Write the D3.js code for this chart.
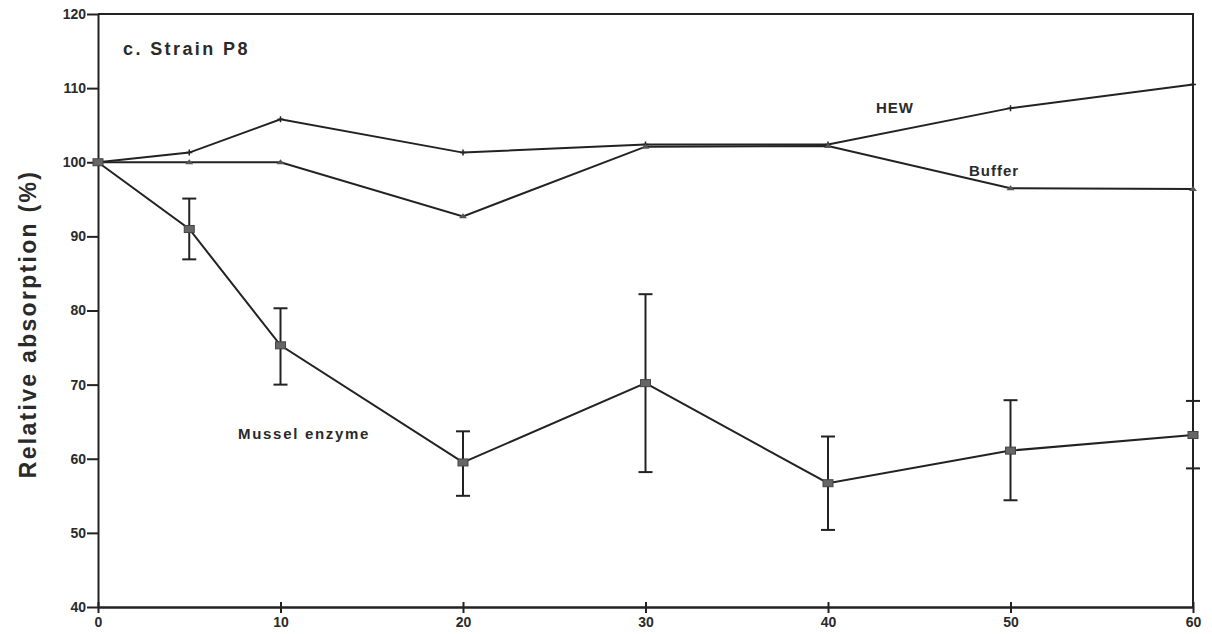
<!DOCTYPE html>
<html>
<head>
<meta charset="utf-8">
<script src="https://cdn.jsdelivr.net/npm/d3@7"></script>
<style>
  body { margin: 0; background: #fff; }
  svg text { font-family: "Liberation Sans", Arial, sans-serif; font-weight: bold; fill: #2a2a2a; }
</style>
</head>
<body>
<div id="chart"></div>
<script>
// time points (min)
const times = [0, 5, 10, 20, 30, 40, 50, 60];
// relative absorption (%)
const hewValues = [100, 101.3, 105.8, 101.3, 102.4, 102.4, 107.3, 110.5];
const bufferValues = [100, 100, 100, 92.7, 102.1, 102.2, 96.5, 96.4];
const musselValues = [100, 91.0, 75.3, 59.5, 70.2, 56.7, 61.1, 63.2];
const musselLow = [null, 86.9, 70.0, 55.0, 58.2, 50.4, 54.4, 58.7];
const musselHigh = [null, 95.1, 80.3, 63.7, 82.2, 63.0, 67.9, 67.8];
const xTicks = [0, 10, 20, 30, 40, 50, 60];
const yTicks = [40, 50, 60, 70, 80, 90, 100, 110, 120];

const width = 1212, height = 634;
const svg = d3.select("#chart").append("svg")
    .attr("width", width)
    .attr("height", height);

const x = d3.scaleLinear().domain([0, 60]).range([98, 1193]);
const y = d3.scaleLinear().domain([40, 120]).range([607, 14]);

const ink = "#222";

// frame (top + right)
svg.append("path")
    .attr("d", `M${x(0)},${y(120)}H${x(60)}V${y(40)}`)
    .attr("fill", "none")
    .attr("stroke", ink)
    .attr("stroke-width", 2);

// y axis
const yAxis = svg.append("g")
    .attr("transform", `translate(${x(0)},0)`)
    .call(d3.axisLeft(y).tickValues(yTicks).tickSize(11).tickPadding(1).tickSizeOuter(0));
yAxis.attr("font-size", 14);
yAxis.select(".domain").attr("stroke", ink).attr("stroke-width", 2);
yAxis.selectAll(".tick line").attr("stroke", ink).attr("stroke-width", 2);
yAxis.selectAll("text").style("font-size", "14px").attr("fill", "#2a2a2a");

// x axis
const xAxis = svg.append("g")
    .attr("transform", `translate(0,${y(40)})`)
    .call(d3.axisBottom(x).tickValues(xTicks).tickSize(6).tickPadding(4).tickSizeOuter(0));
xAxis.attr("font-size", 14);
xAxis.select(".domain").attr("stroke", ink).attr("stroke-width", 2.5);
xAxis.selectAll(".tick line").attr("stroke", ink).attr("stroke-width", 2).attr("y1", -5);
xAxis.selectAll("text").style("font-size", "14px").attr("fill", "#2a2a2a");

const line = d3.line()
    .x((d, i) => x(times[i]))
    .y(d => y(d));

// error bars for mussel enzyme
const errData = times.map((t, i) => ({ t: t, lo: musselLow[i], hi: musselHigh[i] }))
    .filter(d => d.lo !== null);
const err = svg.append("g");
err.selectAll("line.bar").data(errData).enter().append("line")
    .attr("x1", d => x(d.t)).attr("x2", d => x(d.t))
    .attr("y1", d => y(d.lo)).attr("y2", d => y(d.hi))
    .attr("stroke", ink).attr("stroke-width", 2);
["lo", "hi"].forEach(k => {
    err.selectAll("line.cap" + k).data(errData).enter().append("line")
        .attr("x1", d => x(d.t) - 7).attr("x2", d => x(d.t) + 7)
        .attr("y1", d => y(d[k])).attr("y2", d => y(d[k]))
        .attr("stroke", ink).attr("stroke-width", 2);
});

// lines
[hewValues, bufferValues, musselValues].forEach(vals => {
    svg.append("path")
        .datum(vals)
        .attr("d", line)
        .attr("fill", "none")
        .attr("stroke", ink)
        .attr("stroke-width", 2);
});

// HEW markers (small plus)
svg.selectAll("path.hew").data(hewValues).enter().append("path")
    .attr("d", (d, i) => `M${x(times[i]) - 3},${y(d)}h6M${x(times[i])},${y(d) - 3}v6`)
    .attr("stroke", ink).attr("stroke-width", 1.5);

// buffer markers (small triangles)
svg.selectAll("path.buf").data(bufferValues).enter().append("path")
    .attr("d", (d, i) => `M${x(times[i]) - 4},${y(d) + 2}L${x(times[i])},${y(d) - 3}L${x(times[i]) + 4},${y(d) + 2}Z`)
    .attr("fill", "#555");

// mussel markers (grey squares)
svg.selectAll("rect.mus").data(musselValues).enter().append("rect")
    .attr("x", (d, i) => x(times[i]) - 5)
    .attr("y", d => y(d) - 3.5)
    .attr("width", 10).attr("height", 7)
    .attr("fill", "#666").attr("stroke", "#444").attr("stroke-width", 1);

// annotations
svg.append("text").attr("x", 123).attr("y", 55)
    .style("font-size", "18px").style("letter-spacing", "2.4px").text("c. Strain P8");
svg.append("text").attr("x", 876).attr("y", 113)
    .style("font-size", "15px").style("letter-spacing", "1px").text("HEW");
svg.append("text").attr("x", 969).attr("y", 176)
    .style("font-size", "15px").style("letter-spacing", "1px").text("Buffer");
svg.append("text").attr("x", 238).attr("y", 439)
    .style("font-size", "15px").style("letter-spacing", "1.7px").text("Mussel enzyme");

// y axis title
svg.append("text")
    .attr("transform", "translate(36,324) rotate(-90)")
    .attr("text-anchor", "middle")
    .style("font-size", "23px")
    .style("letter-spacing", "2.3px")
    .text("Relative absorption (%)");
</script>
</body>
</html>
